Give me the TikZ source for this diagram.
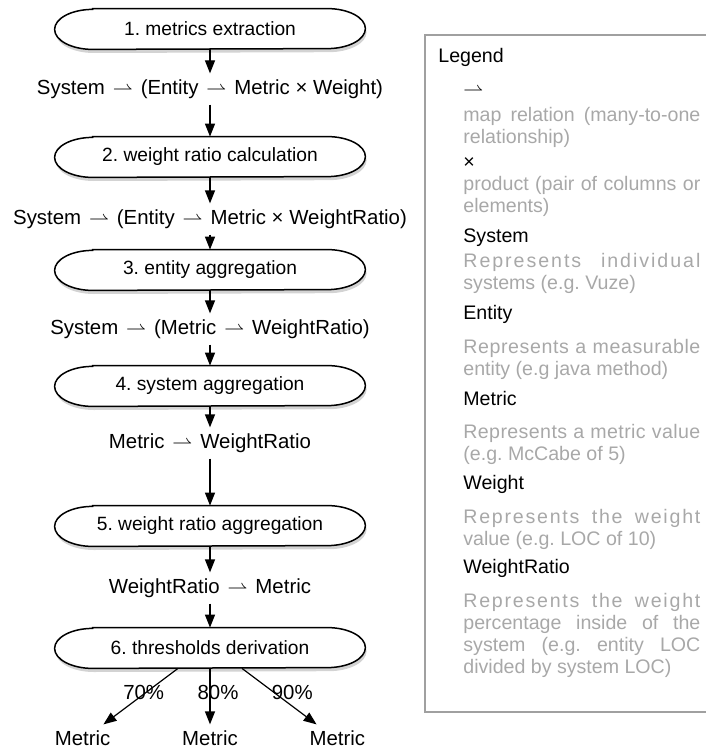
\documentclass[tikz,border=0pt]{standalone}
\usepackage{fontspec}
\setmainfont{Liberation Sans}
\frenchspacing
\usepackage{xcolor}
\definecolor{frame}{HTML}{A0A0A0}
\definecolor{note}{HTML}{A8A8A8}
\usetikzlibrary{positioning,arrows.meta,backgrounds,shadows}
\newcommand{\maparr}{\ensuremath{\mkern2mu\rightharpoonup\mkern2mu}}
\newcommand{\spaced}[2]{{\addfontfeature{LetterSpace=#1}#2}}
\tikzset{
  stage/.style={minimum width=155pt, minimum height=20pt, inner sep=0pt, font=\fontsize{9.6}{11}\selectfont},
  stageline/.style={draw=black, line width=0.75pt, fill=white, drop shadow={shadow xshift=0.6pt, shadow yshift=-1.8pt, opacity=.35}},
  type/.style={inner xsep=0pt, inner ysep=3pt, text height=7.2pt, text depth=2pt, font=\fontsize{10.2}{12}\selectfont},
  flow/.style={-{Triangle[length=6.5pt,width=5pt]}, line width=0.6pt},
  pct/.style={type},
  legtitle/.style={inner sep=0pt, text height=7pt, text depth=2pt, anchor=west, font=\fontsize{9.8}{11}\selectfont},
  legnote/.style={inner sep=0pt, anchor=north west, text width=118.5pt, align=justify, text=note, font=\fontsize{9.8}{11}\selectfont},
}
\begin{document}
\begin{tikzpicture}[x=0.5pt, y=0.5pt]
  \useasboundingbox (0,0) rectangle (706,-749);
  % pipeline
  \node[stage] (s1) at (210,-29) {1. metrics extraction};
  \node[type, below=12pt of s1] (t1) {System \maparr{} (Entity \maparr{} Metric × Weight)};
  \node[stage, below=16pt of t1] (s2) {2. weight ratio calculation};
  \node[type, below=13pt of s2] (t2) {System \maparr{} (Entity \maparr{} Metric × WeightRatio)};
  \node[stage, below=7.5pt of t2] (s3) {3. entity aggregation};
  \node[type, below=11.5pt of s3] (t3) {System \maparr{} (Metric \maparr{} WeightRatio)};
  \node[stage, below=10.5pt of t3] (s4) {4. system aggregation};
  \node[type, below=10.5pt of s4] (t4) {Metric \maparr{} WeightRatio};
  \node[stage, below=23.5pt of t4] (s5) {5. weight ratio aggregation};
  \node[type, below=13pt of s5] (t5) {WeightRatio \maparr{} Metric};
  \node[stage, below=12pt of t5] (s6) {6. thresholds derivation};
  \node[type, below=28pt of s6] (m2) {Metric};
  \node[type, left=35.5pt of m2] (m1) {Metric};
  \node[type, right=35.5pt of m2] (m3) {Metric};
  \begin{scope}[on background layer]
    \foreach \i in {1,...,6}
      \draw[stageline] ([xshift=19pt]s\i.north west) -- ([xshift=-19pt]s\i.north east)
        arc[start angle=90, end angle=-90, x radius=19pt, y radius=10pt]
        -- ([xshift=19pt]s\i.south west)
        arc[start angle=270, end angle=90, x radius=19pt, y radius=10pt] -- cycle;
  \end{scope}
  \draw[flow] (s1) -- (t1); \draw[flow] (t1) -- (s2);
  \draw[flow] (s2) -- (t2); \draw[flow] (t2) -- (s3);
  \draw[flow] (s3) -- (t3); \draw[flow] (t3) -- (s4);
  \draw[flow] (s4) -- (t4); \draw[flow] (t4) -- (s5);
  \draw[flow] (s5) -- (t5); \draw[flow] (t5) -- (s6);
  \draw[flow] ([xshift=-16pt]s6.south) -- (m1) node[pct, pos=.46, xshift=0pt] {70\%};
  \draw[flow] (s6.south) -- (m2) node[pct, pos=.46, xshift=4pt] {80\%};
  \draw[flow] ([xshift=16pt]s6.south) -- (m3) node[pct, pos=.46, xshift=8pt] {90\%};
  % legend
  \draw[frame, line width=0.8pt] (706,-35) -| (425,-712) -- (706,-712);
  \node[legtitle] (lg) at (438,-58) {Legend};
  \node[legtitle] (k1) at (463,-91) {\ensuremath{\rightharpoonup}};
  \node[legnote] (n1) at (463,-107) {map relation (many-to-one\linebreak relationship)};
  \node[legtitle] (k2) at (463,-164) {×};
  \node[legnote] (n2) at (463,-176) {product (pair of columns or\linebreak elements)};
  \node[legtitle] (k3) at (463,-237) {System};
  \node[legnote] (n3) at (463,-253) {\spaced{10}{Represents individual}\linebreak systems (e.g. Vuze)};
  \node[legtitle] (k4) at (463,-314) {Entity};
  \node[legnote] (n4) at (463,-339) {\spaced{3}{Represents a measurable}\linebreak entity (e.g java method)};
  \node[legtitle] (k5) at (463,-400) {Metric};
  \node[legnote] (n5) at (463,-424) {\spaced{2}{Represents a metric value}\linebreak (e.g. McCabe of 5)};
  \node[legtitle] (k6) at (463,-484) {Weight};
  \node[legnote] (n6) at (463,-509) {\spaced{9}{Represents the weight}\linebreak value (e.g. LOC of 10)};
  \node[legtitle] (k7) at (463,-568) {WeightRatio};
  \node[legnote] (n7) at (463,-593) {\spaced{9}{Represents the weight}\linebreak percentage inside of the\linebreak system (e.g. entity LOC\linebreak divided by system LOC)};
\end{tikzpicture}
\end{document}
